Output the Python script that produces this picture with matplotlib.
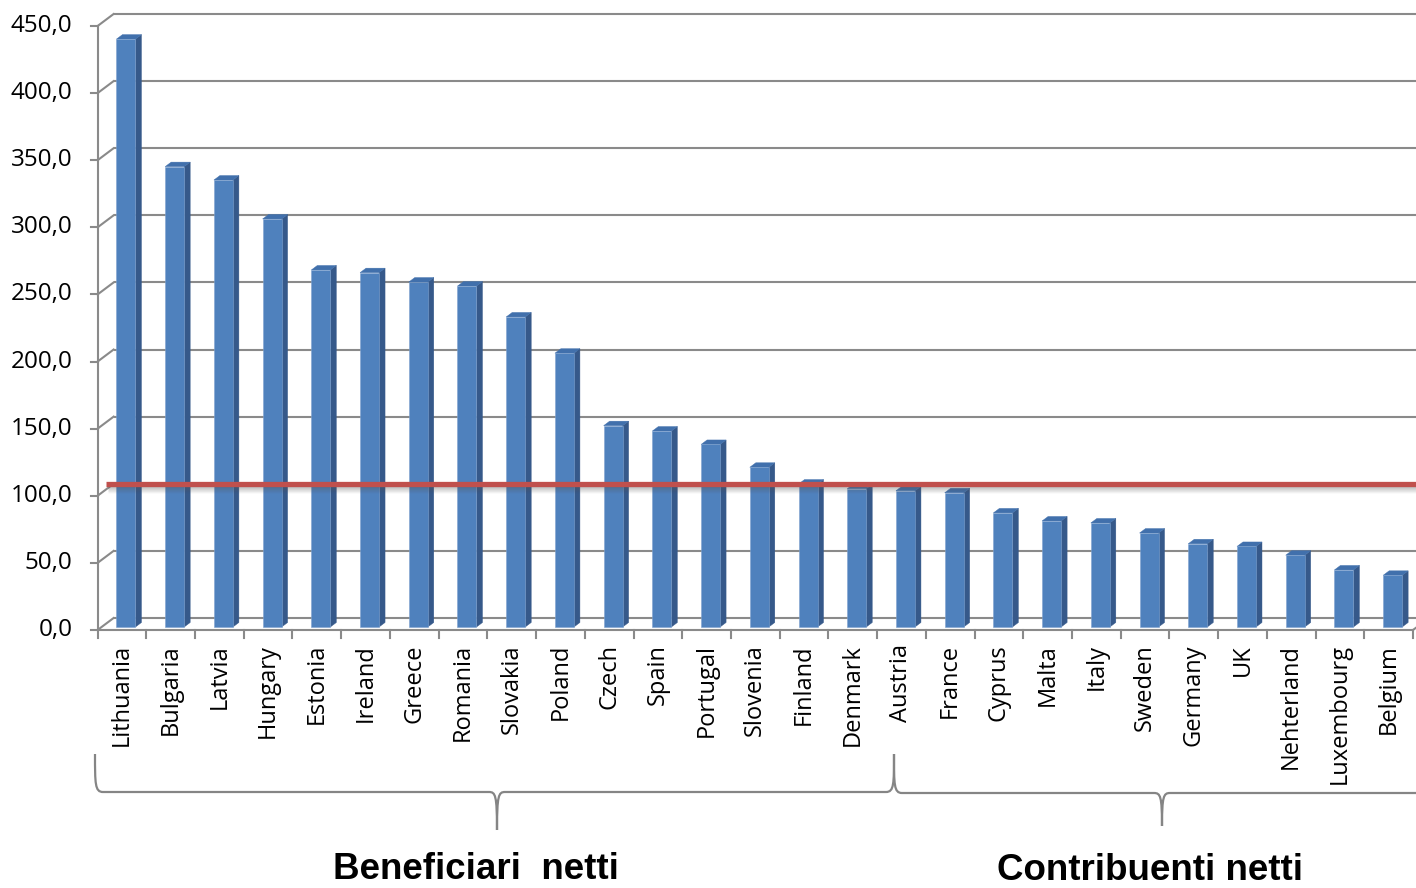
import matplotlib
matplotlib.use("Agg")
import matplotlib.pyplot as plt
from matplotlib.patches import Polygon, PathPatch
from matplotlib.path import Path

# ---------------- data ----------------
countries = ["Lithuania", "Bulgaria", "Latvia", "Hungary", "Estonia", "Ireland",
             "Greece", "Romania", "Slovakia", "Poland", "Czech", "Spain",
             "Portugal", "Slovenia", "Finland", "Denmark", "Austria", "France",
             "Cyprus", "Malta", "Italy", "Sweden", "Germany", "UK",
             "Nehterland", "Luxembourg", "Belgium"]
values = [438, 343, 333, 304, 266, 264, 257, 254, 231, 204, 150, 146, 136, 119,
          106.5, 103, 101.5, 100, 85, 79, 77.5, 70, 62, 60, 53.5, 42.5, 38.5]
y_ticks = [0, 50, 100, 150, 200, 250, 300, 350, 400, 450]
y_tick_labels = ["0,0", "50,0", "100,0", "150,0", "200,0", "250,0",
                 "300,0", "350,0", "400,0", "450,0"]
average_value = 100
group_labels = ["Beneficiari  netti", "Contribuenti netti"]

# ---------------- figure / axes ----------------
W, H, DPI = 1416, 888, 100
fig = plt.figure(figsize=(W / DPI, H / DPI), dpi=DPI)
ax_l, ax_r, ax_top, ax_bot = 97.6, 1413, 26, 630
ax = fig.add_axes([ax_l / W, (H - ax_bot) / H, (ax_r - ax_l) / W, (ax_bot - ax_top) / H])
n = len(countries)
ax.set_xlim(0, n)
ax.set_ylim(0, 450)
ax.axis("off")

px_x = (ax_r - ax_l) / n          # pixels per category unit
px_y = (ax_bot - ax_top) / 450.0  # pixels per value unit
DX = 16 / px_x                    # depth offset (full depth) in data units
DY = 12 / px_y

grid_c = "#8a8a8a"
grid_lw = 1.5

# back wall gridlines and side-wall diagonals
for t in y_ticks:
    ax.plot([DX, n + DX], [t + DY, t + DY], color=grid_c, lw=grid_lw, clip_on=False, zorder=1,
            solid_capstyle="butt")
    ax.plot([0, DX], [t, t + DY], color=grid_c, lw=grid_lw, clip_on=False, zorder=1)
    ax.plot([-7 / px_x, 0], [t, t], color=grid_c, lw=grid_lw, clip_on=False, zorder=1)

# front vertical axis, floor line, right floor edge
ax.plot([0, 0], [0, 450], color=grid_c, lw=grid_lw, clip_on=False, zorder=1)
ax.plot([0, n], [0, 0], color=grid_c, lw=grid_lw, clip_on=False, zorder=1)
ax.plot([n, n + DX], [0, DY], color=grid_c, lw=grid_lw, clip_on=False, zorder=1)
for i in range(n + 1):
    ax.plot([i, i], [0, -8 / px_y], color=grid_c, lw=grid_lw, clip_on=False, zorder=1)

# y tick labels
for t, lab in zip(y_ticks, y_tick_labels):
    ax.text(-25 / px_x, t, lab, ha="right", va="center", fontsize=17.5,
            family="Open Sans", color="#000000", clip_on=False)

# ---------------- bars ----------------
front_c = "#4F81BD"
side_c = "#36598A"
top_c = "#4170AC"
bw = 19 / px_x
d0 = 0.25          # depth of front face
dd = 0.375         # bar depth
for i, v in enumerate(values):
    x0 = i + 0.5 - bw / 2 + d0 * DX
    y0 = d0 * DY
    front = Polygon([(x0, y0), (x0 + bw, y0), (x0 + bw, y0 + v), (x0, y0 + v)],
                    closed=True, facecolor=front_c, edgecolor="#7fa2cf", lw=0.4,
                    clip_on=False, zorder=3)
    side = Polygon([(x0 + bw, y0), (x0 + bw + dd * DX, y0 + dd * DY),
                    (x0 + bw + dd * DX, y0 + v + dd * DY), (x0 + bw, y0 + v)],
                   closed=True, facecolor=side_c, edgecolor=side_c, lw=0.3,
                   clip_on=False, zorder=3)
    top = Polygon([(x0, y0 + v), (x0 + bw, y0 + v), (x0 + bw + dd * DX, y0 + v + dd * DY),
                   (x0 + dd * DX, y0 + v + dd * DY)],
                  closed=True, facecolor=top_c, edgecolor=top_c, lw=0.3,
                  clip_on=False, zorder=3)
    ax.add_patch(side)
    ax.add_patch(top)
    ax.add_patch(front)

# ---------------- average line with soft shadow ----------------
ly = average_value + DY
x_start = 0.5 * DX
x_end = n + DX + 1
for k, a in zip(range(1, 8), [0.16, 0.14, 0.12, 0.09, 0.07, 0.05, 0.03]):
    ax.plot([x_start + 2 / px_x, x_end], [ly - (1.5 + k) / px_y] * 2, color="#555555",
            alpha=a, lw=2, clip_on=False, zorder=4, solid_capstyle="butt")
ax.plot([x_start, x_end], [ly, ly], color="#C0504D", lw=3.8, clip_on=False, zorder=5,
        solid_capstyle="butt")

# ---------------- category labels ----------------
for i, c in enumerate(countries):
    ax.text(i + 0.5, -14 / px_y, c, rotation=90, ha="center", va="top", fontsize=17,
            family="Open Sans", color="#000000", clip_on=False)

# ---------------- braces ----------------
def ypx(py):
    return (ax_bot - py) / px_y

def xpx(px):
    return (px - ax_l) / px_x

def brace(x_left, x_mid, x_right, y_end, y_bar, y_tip, r, right_end=True):
    ry = r * px_x / px_y
    verts = [(x_left, y_end), (x_left, y_bar + ry), (x_left, y_bar), (x_left + r, y_bar)]
    codes = [Path.MOVETO, Path.CURVE4, Path.CURVE4, Path.CURVE4]
    verts += [(x_mid - r, y_bar), (x_mid - r * 0.2, y_bar), (x_mid, y_bar - ry * 0.4), (x_mid, y_tip)]
    codes += [Path.LINETO, Path.CURVE4, Path.CURVE4, Path.CURVE4]
    verts += [(x_mid, y_bar - ry * 0.4), (x_mid + r * 0.2, y_bar), (x_mid + r, y_bar)]
    codes += [Path.CURVE4, Path.CURVE4, Path.CURVE4]
    if right_end:
        verts += [(x_right - r, y_bar), (x_right, y_bar), (x_right, y_bar + ry), (x_right, y_end)]
        codes += [Path.LINETO, Path.CURVE4, Path.CURVE4, Path.CURVE4]
    else:
        verts += [(x_right, y_bar)]
        codes += [Path.LINETO]
    ax.add_patch(PathPatch(Path(verts, codes), facecolor="none", edgecolor="#858585",
                           lw=1.6, clip_on=False, zorder=2))

r = 8 / px_x
brace(xpx(95), xpx(497), xpx(894), ypx(754), ypx(792), ypx(830), r)
brace(xpx(894), xpx(1162), xpx(1440), ypx(754), ypx(793), ypx(826), r, right_end=False)

# ---------------- group titles ----------------
fig.text(476 / W, 1 - 879 / H, group_labels[0], ha="center", va="baseline",
         fontsize=26.5, fontweight="bold", family="Liberation Sans")
fig.text(1150 / W, 1 - 880 / H, group_labels[1], ha="center", va="baseline",
         fontsize=26.5, fontweight="bold", family="Liberation Sans")

fig.savefig("out.png", dpi=DPI, facecolor="white")
